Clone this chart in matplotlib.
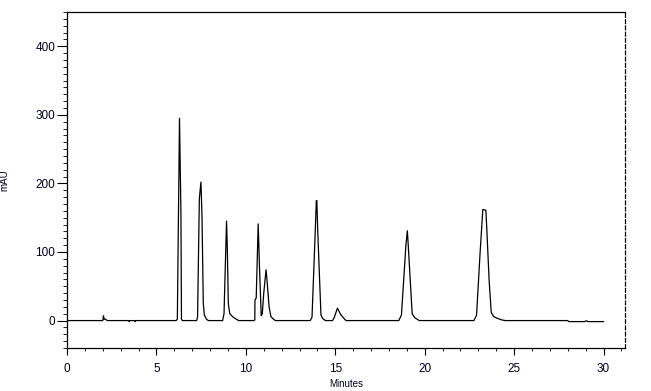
import matplotlib
matplotlib.use("Agg")
import matplotlib.pyplot as plt
from matplotlib.ticker import MultipleLocator

# Chromatogram trace (minutes, mAU)
time_min = [
    0.00, 2.00, 2.04, 2.08, 2.15, 2.25, 3.45, 3.48, 3.52, 3.78, 3.81, 3.85,
    6.10, 6.17, 6.29, 6.37, 6.40, 6.45,
    7.25, 7.30, 7.40, 7.49, 7.55, 7.62, 7.68, 7.80, 7.90,
    8.70, 8.78, 8.92, 8.96, 9.02, 9.10, 9.25, 9.40, 9.60,
    10.45, 10.50, 10.51, 10.58, 10.69, 10.76, 10.86, 10.92, 11.00, 11.13, 11.18,
    11.30, 11.40, 11.50, 11.65,
    13.60, 13.70, 13.88, 13.94, 13.97, 14.02, 14.20, 14.30, 14.45,
    14.85, 14.95, 15.12, 15.20, 15.30, 15.42, 15.60,
    18.55, 18.70, 18.95, 19.03, 19.08, 19.30, 19.45, 19.70,
    22.75, 22.90, 23.10, 23.25, 23.42, 23.47, 23.60, 23.72, 23.85, 24.00, 24.30, 24.50,
    28.00, 28.05, 28.95, 29.00, 29.08, 29.12, 30.00,
]
absorbance_mau = [
    0.0, 0.0, 7.0, 2.0, 2.0, 0.0, 0.0, -1.5, 0.0, 0.0, -1.5, 0.0,
    0.0, 2.0, 295.0, 157.0, 2.0, 0.0,
    0.0, 5.0, 178.0, 202.0, 150.0, 25.0, 8.0, 2.0, 0.0,
    0.0, 10.0, 145.0, 110.0, 25.0, 10.0, 6.0, 3.0, 0.0,
    0.0, 1.0, 30.0, 33.0, 141.0, 80.0, 7.0, 10.0, 40.0, 74.0, 60.0,
    20.0, 6.0, 3.0, 0.0,
    0.0, 5.0, 130.0, 175.0, 175.0, 130.0, 8.0, 3.0, 0.0,
    0.0, 5.0, 18.0, 14.0, 9.0, 5.0, 0.0,
    0.0, 8.0, 110.0, 131.0, 110.0, 10.0, 4.0, 0.0,
    0.0, 8.0, 100.0, 162.0, 161.0, 135.0, 60.0, 12.0, 6.0, 4.0, 1.0, 0.0,
    0.0, -1.5, -1.5, -0.5, -0.5, -1.5, -1.5,
]

x_ticks = [0, 5, 10, 15, 20, 25, 30]
y_ticks = [0, 100, 200, 300, 400]

plt.rcParams["font.family"] = ["Liberation Sans", "DejaVu Sans"]

fig = plt.figure(figsize=(6.51, 3.91), dpi=100)
ax = fig.add_axes([67 / 651, 1 - 348 / 391, (625 - 67) / 651, (348 - 12) / 391])

ax.plot(time_min, absorbance_mau, color="black", linewidth=0.9)

ax.set_xlim(0, 31.2)
ax.set_ylim(-40, 450)
ax.set_xticks(x_ticks)
ax.set_yticks(y_ticks)
ax.xaxis.set_minor_locator(MultipleLocator(1))
ax.yaxis.set_minor_locator(MultipleLocator(10))

tc = "#000020"
ax.tick_params(axis="both", which="major", labelsize=8.5, colors="black", labelcolor=tc, width=0.8)
ax.tick_params(axis="x", which="major", length=5, pad=6)
ax.tick_params(axis="y", which="major", length=7, pad=1.5)
ax.tick_params(axis="x", which="minor", length=2.5, width=0.6)
ax.tick_params(axis="y", which="minor", length=3, width=0.6)

for side in ["left", "bottom", "top"]:
    ax.spines[side].set_linewidth(0.9)
ax.spines["right"].set_linewidth(0.9)
ax.spines["right"].set_linestyle((0, (3, 2)))

ax.set_xlabel("Minutes", fontsize=7, color=tc, labelpad=2.5)
ax.set_ylabel("mAU", fontsize=7, color=tc)
ax.yaxis.set_label_coords(-0.104, 0.5)

fig.savefig("out.png", dpi=100)
